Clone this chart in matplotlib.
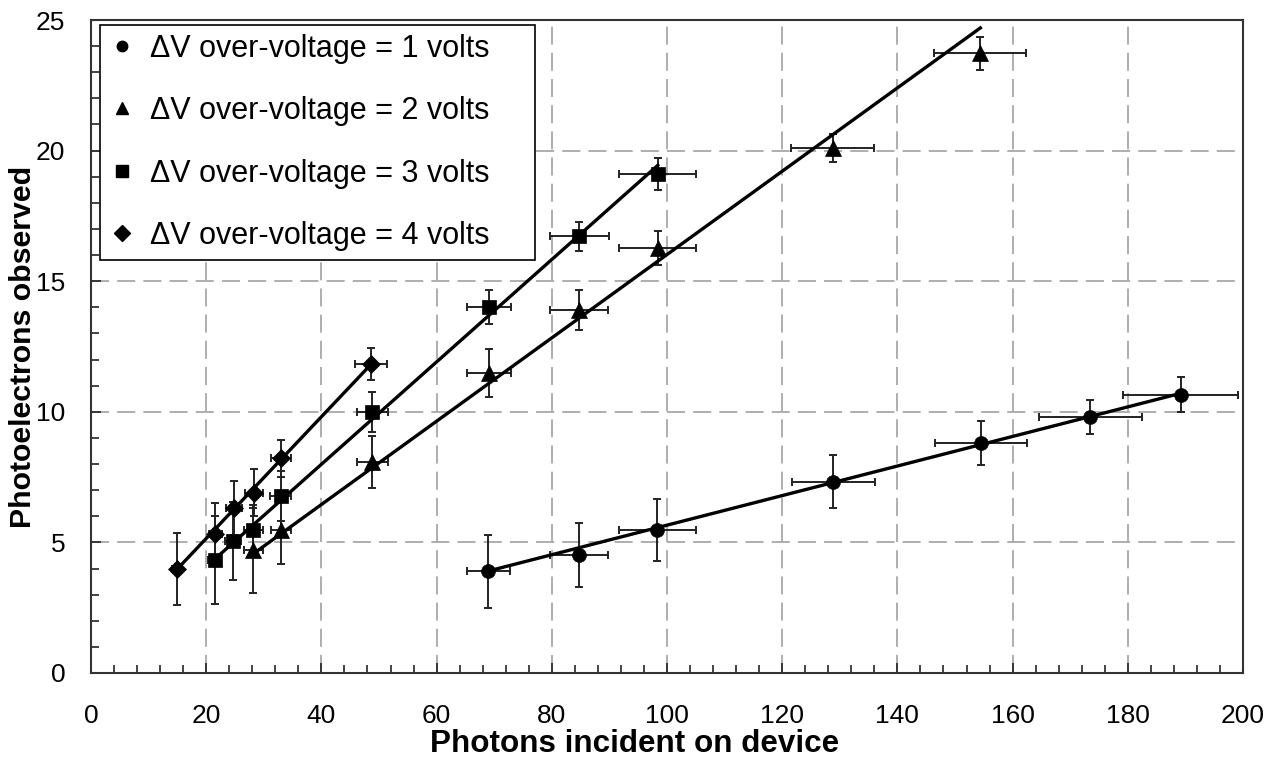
import matplotlib
matplotlib.use("Agg")
import matplotlib.pyplot as plt
from matplotlib.lines import Line2D
from matplotlib.ticker import MultipleLocator
import numpy as np

plt.rcParams['font.family'] = ['Liberation Sans', 'DejaVu Sans']

# ---- data ----
labels = ["\u0394V over-voltage = 1 volts", "\u0394V over-voltage = 2 volts",
          "\u0394V over-voltage = 3 volts", "\u0394V over-voltage = 4 volts"]

x1 = [69.0, 84.7, 98.3, 128.9, 154.5, 173.5, 189.2]
y1 = [3.90, 4.52, 5.48, 7.33, 8.80, 9.80, 10.66]
ey1 = [1.40, 1.23, 1.18, 1.00, 0.85, 0.66, 0.66]
ex1 = [3.8, 5.0, 6.7, 7.2, 8.0, 9.0, 10.0]

x2 = [28.2, 33.0, 48.8, 69.1, 84.7, 98.4, 128.8, 154.4]
y2 = [4.70, 5.48, 8.07, 11.49, 13.90, 16.28, 20.10, 23.73]
ey2 = [1.63, 1.30, 1.00, 0.92, 0.75, 0.65, 0.52, 0.63]
ex2 = [1.6, 1.8, 2.7, 3.8, 5.0, 6.7, 7.2, 8.0]

x3 = [21.45, 24.65, 28.2, 32.9, 48.8, 69.1, 84.75, 98.4]
y3 = [4.34, 5.05, 5.47, 6.78, 10.00, 14.02, 16.72, 19.10]
ey3 = [1.68, 1.50, 0.95, 0.95, 0.77, 0.65, 0.56, 0.62]
ex3 = [1.2, 1.4, 1.6, 1.8, 2.7, 3.85, 5.1, 6.7]

x4 = [14.9, 21.6, 24.8, 28.3, 33.0, 48.6]
y4 = [3.97, 5.31, 6.33, 6.90, 8.22, 11.83]
ey4 = [1.38, 1.19, 1.03, 0.90, 0.70, 0.63]
ex4 = [0.9, 1.2, 1.4, 1.6, 1.8, 2.75]

# fitted lines (slope, intercept)
fit_slope = [0.0566, 0.1595, 0.196, 0.233]
fit_icpt = [0.0, 0.07, 0.15, 0.49]

xticks = [0, 20, 40, 60, 80, 100, 120, 140, 160, 180, 200]
yticks = [0, 5, 10, 15, 20, 25]

series = [(x1, y1, ex1, ey1), (x2, y2, ex2, ey2), (x3, y3, ex3, ey3), (x4, y4, ex4, ey4)]
markers = ['o', '^', 's', 'D']
msizes = [10, 11, 10.5, 9.5]
leg_msizes = [7.5, 9, 8.5, 8.5]

fig = plt.figure(figsize=(12.68, 7.58), dpi=100)
ax = fig.add_axes([91/1268, 85/758, 1152/1268, 653/758])

ax.set_xlim(0, 200)
ax.set_ylim(0, 25)
ax.set_xticks(xticks)
ax.set_yticks(yticks)
ax.xaxis.set_minor_locator(MultipleLocator(4))
ax.yaxis.set_minor_locator(MultipleLocator(1))
ax.tick_params(axis='both', which='both', direction='in', top=False, right=False,
               labelsize=19, color='#222222')
ax.tick_params(axis='both', which='major', length=7, width=1.2)
ax.tick_params(axis='both', which='minor', length=6, width=1.2)
ax.tick_params(axis='x', which='major', pad=22)
ax.tick_params(axis='y', which='major', pad=18.5)

ax.grid(True, which='major', color='#a8a8a8', linestyle=(0, (10, 4.5)), linewidth=1.3)
ax.set_axisbelow(True)
for s in ax.spines.values():
    s.set_color('#333333')
    s.set_linewidth(1.5)

for (xs, ys, exs, eys), m, ms, k, b in zip(series, markers, msizes, fit_slope, fit_icpt):
    xs = np.asarray(xs)
    xl = np.array([xs.min(), xs.max()])
    ax.plot(xl, k * xl + b, color='black', linewidth=2.4, zorder=3)
    ax.errorbar(xs, ys, xerr=exs, yerr=eys, fmt='none', ecolor='#222222',
                elinewidth=1.4, capsize=3.2, capthick=1.4, zorder=2)
    ax.plot(xs, ys, linestyle='none', marker=m, markersize=ms, color='black',
            markeredgewidth=0.5, zorder=4)

handles = [Line2D([], [], linestyle='none', marker=m, markersize=ms, color='black')
           for m, ms in zip(markers, leg_msizes)]
leg_w = (535 - 100.7) / 1152
leg = ax.legend(handles, labels, loc='upper left',
                bbox_to_anchor=(0.0082, 0.0, leg_w, 0.993), mode='expand',
                fontsize=22, frameon=True, fancybox=False, framealpha=1,
                edgecolor='black', handlelength=0.78, handletextpad=0.54,
                labelspacing=1.06, borderpad=0.3, borderaxespad=0)
leg.get_frame().set_linewidth(1.2)
leg.set_zorder(6)

ax.set_xlabel("Photons incident on device", fontsize=22.6, fontweight='bold')
ax.xaxis.set_label_coords(0.472, -0.0865)
ax.set_ylabel("Photoelectrons observed", fontsize=21.8, fontweight='bold')
ax.yaxis.set_label_coords(-0.0465, 0.5)

fig.savefig("out.png", dpi=100)
